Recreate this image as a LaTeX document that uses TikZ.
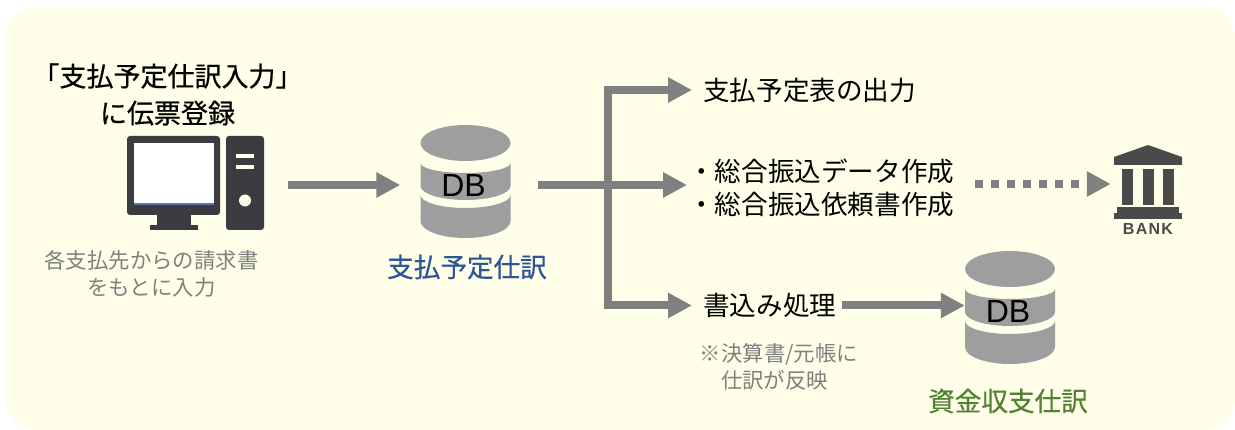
\documentclass[tikz,border=0pt]{standalone}
\usepackage{fontspec}
\setmainfont{Noto Sans CJK JP}
\newfontfamily\jpbold[FakeBold=0.5]{Noto Sans CJK JP}
\newfontfamily\dbfont{Liberation Sans}
\newfontfamily\bankfont[LetterSpace=8]{Liberation Sans}
\usetikzlibrary{arrows.meta,calc,positioning}
\definecolor{panelyellow}{HTML}{FFFFE9}
\definecolor{flowgray}{HTML}{808080}
\definecolor{dbgray}{HTML}{9E9E9E}
\definecolor{pcdark}{HTML}{3A3C41}
\definecolor{bankdark}{HTML}{4A4A4A}
\definecolor{notegray}{HTML}{7F7F7F}
\definecolor{dbblue}{HTML}{2F5597}
\definecolor{dbgreen}{HTML}{548235}
\tikzset{panel/.style={
            fill=panelyellow,
            rounded corners=30pt
        },
        flow/.style={
            draw=flowgray,
            line width=8pt,
            -{Triangle[length=24pt,width=24pt]}
        },
        icon/.style={
            inner sep=0pt,
            minimum width=#1
        },
        title/.style={
            inner sep=0pt,
            align=center,
            font=\jpbold\fontsize{27}{37}\selectfont
        },
        step text/.style={
            inner sep=0pt,
            align=left,
            anchor=west,
            font=\fontsize{26.6}{33}\selectfont
        },
        note/.style={
            inner sep=0pt,
            align=center,
            text=notegray,
            font=\fontsize{21.4}{27}\selectfont
        },
        dbname/.style={
            inner sep=0pt,
            text=#1,
            font=\jpbold\fontsize{26.6}{30}\selectfont
        },
        dbstack/.pic={
            \fill[dbgray] (0,-42) ellipse[x radius=45,y radius=18];
            \fill[dbgray] (-45,-22) arc[start angle=180,end angle=0,x radius=45,y radius=10]
                -- (45,1) arc[start angle=0,end angle=180,x radius=45,y radius=14] -- cycle;
            \fill[dbgray] (-45,10) arc[start angle=180,end angle=0,x radius=45,y radius=13]
                -- (45,36) arc[start angle=0,end angle=180,x radius=45,y radius=17] -- cycle;
            \node[inner sep=0pt,minimum width=90pt,font=\dbfont\fontsize{32}{32}\selectfont] (-box) at (0,0) {DB\hspace*{4pt}};
        }
    }
\begin{document}
\begin{tikzpicture}[x=1pt,y=-1pt]
        \useasboundingbox (0,0) rectangle (1235,430);
        \fill[panel] (5.5,7) rectangle (1235,430);

        % input side
        \node[title] (entry) at (167.5,94.5) {「支払予定仕訳入力」\\に伝票登録};
        \node[icon=137pt,minimum height=94pt] (pc) at (195.5,185) {};
        \fill[pcdark,rounded corners=3pt] (127,136) rectangle (220,215);
        \fill[white] (133.5,143) rectangle (214,205);
        \fill[dbblue!80] (133.5,203.5) rectangle (214,205.5);
        \fill[pcdark] (157,214) rectangle (191,226);
        \fill[pcdark] (149.5,225) rectangle (198,230);
        \fill[pcdark,rounded corners=3pt] (226,136) rectangle (264,230);
        \fill[panelyellow] (236,154) rectangle (254,158);
        \fill[panelyellow] (236,165) rectangle (254,169);
        \fill[panelyellow] (245,200.5) circle[radius=6];
        \node[note] (source) at (151.5,273.5) {各支払先からの請求書\\をもとに入力};

        % databases
        \pic (db1) at (465.5,185) {dbstack};
        \node[dbname=dbblue] (db1name) at (467,267) {支払予定仕訳};
        \pic (db2) at (1010,311) {dbstack};
        \node[dbname=dbgreen] (db2name) at (1008,401) {資金収支仕訳};

        % outputs
        \coordinate (branch) at (608,185);
        \node[step text] (outlist) at (703,90) {支払予定表の出力};
        \node[step text] (transfer) at (688,187.5) {・総合振込データ作成\\・総合振込依頼書作成};
        \node[step text] (write) at (703,305.5) {書込み処理};
        \node[note] (ledger) at (779,366.5) {※決算書/元帳に\\仕訳が反映\hspace*{9pt}};

        % bank
        \node[icon=68pt] (bank) at (1148,184) {};
        \fill[bankdark] (1148,145) -- (1182,157) -- (1182,165) -- (1114,165) -- (1114,157) -- cycle;
        \foreach \colx in {1122,1143,1163}
            \fill[bankdark] (\colx,169) rectangle ++(10.5,36);
        \fill[bankdark] (1117,207) rectangle (1179,213);
        \fill[bankdark] (1114,213) rectangle (1182,219);
        \node[inner sep=0pt,text=bankdark,font=\bankfont\bfseries\fontsize{16}{16}\selectfont] (banktext) at (1148,229) {BANK};

        % connectors
        \draw[flow,shorten <=24pt,shorten >=20pt] (pc.east) -- (db1-box.west);
        \draw[flow,shorten <=27.5pt,shorten >=1pt] (db1-box.east) -- (db1-box.east -| transfer.west);
        \draw[flow,shorten >=11pt] (branch) |- (outlist.west);
        \draw[flow,shorten >=11pt] (branch) |- (write.west);
        \draw[flow,shorten <=6pt] (write.east) -- (write.east -| db2-box.west);
        \draw[flow,dash pattern=on 8pt off 8pt,shorten <=21pt,shorten >=3pt] (transfer.east |- bank.west) -- (bank.west);
    \end{tikzpicture}
\end{document}
